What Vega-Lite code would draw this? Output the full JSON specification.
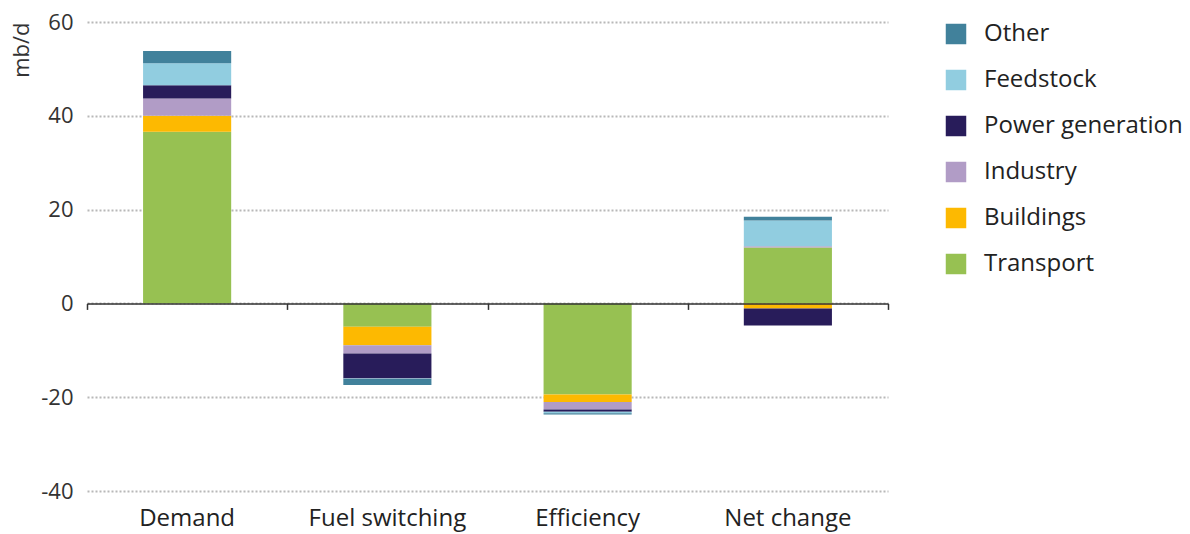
{
  "$schema": "https://vega.github.io/schema/vega-lite/v6.json",
  "autosize": {"type": "none"},
  "padding": {"left": 87, "top": 22, "right": 302, "bottom": 43},
  "width": 801,
  "height": 469,
  "background": "white",
  "config": {
    "font": "Open Sans",
    "view": {"stroke": null},
    "axis": {"labelColor": "#333333", "titleColor": "#333333", "labelFontSize": 22, "titleFontSize": 22, "titleFontWeight": "normal"}
  },
  "data": {
    "values": [
      {"cat": "Demand", "sector": "Transport", "value": 36.6, "rank": 1},
      {"cat": "Demand", "sector": "Buildings", "value": 3.4, "rank": 2},
      {"cat": "Demand", "sector": "Industry", "value": 3.7, "rank": 3},
      {"cat": "Demand", "sector": "Power generation", "value": 2.8, "rank": 4},
      {"cat": "Demand", "sector": "Feedstock", "value": 4.7, "rank": 5},
      {"cat": "Demand", "sector": "Other", "value": 2.6, "rank": 6},
      {"cat": "Fuel switching", "sector": "Transport", "value": -5.0, "rank": 1},
      {"cat": "Fuel switching", "sector": "Buildings", "value": -3.9, "rank": 2},
      {"cat": "Fuel switching", "sector": "Industry", "value": -1.8, "rank": 3},
      {"cat": "Fuel switching", "sector": "Power generation", "value": -5.3, "rank": 4},
      {"cat": "Fuel switching", "sector": "Feedstock", "value": -0.1, "rank": 5},
      {"cat": "Fuel switching", "sector": "Other", "value": -1.3, "rank": 6},
      {"cat": "Efficiency", "sector": "Transport", "value": -19.4, "rank": 1},
      {"cat": "Efficiency", "sector": "Buildings", "value": -1.6, "rank": 2},
      {"cat": "Efficiency", "sector": "Industry", "value": -1.6, "rank": 3},
      {"cat": "Efficiency", "sector": "Power generation", "value": -0.5, "rank": 4},
      {"cat": "Efficiency", "sector": "Feedstock", "value": -0.3, "rank": 5},
      {"cat": "Efficiency", "sector": "Other", "value": -0.3, "rank": 6},
      {"cat": "Net change", "sector": "Transport", "value": 11.9, "rank": 1},
      {"cat": "Net change", "sector": "Buildings", "value": -1.1, "rank": 2},
      {"cat": "Net change", "sector": "Industry", "value": 0.3, "rank": 3},
      {"cat": "Net change", "sector": "Power generation", "value": -3.6, "rank": 4},
      {"cat": "Net change", "sector": "Feedstock", "value": 5.5, "rank": 5},
      {"cat": "Net change", "sector": "Other", "value": 0.8, "rank": 6}
    ]
  },
  "layer": [
    {
      "mark": {"type": "bar", "width": {"band": 0.44}},
      "encoding": {
        "x": {
          "field": "cat", "type": "nominal", "sort": null,
          "scale": {"paddingInner": 0, "paddingOuter": 0},
          "axis": {"orient": "bottom", "title": null, "domain": false, "ticks": false, "labelAngle": 0, "labelPadding": 15, "grid": false, "labelColor": "#222222", "labelFontSize": 24}
        },
        "y": {
          "field": "value", "type": "quantitative", "stack": "zero",
          "scale": {"domain": [-40, 60], "nice": false},
          "axis": {
            "title": "mb/d", "titleAnchor": "end", "titlePadding": 10, "titleX": -54, "titleAlign": "right",
            "values": [-40, -20, 0, 20, 40, 60], "labelExpr": "datum.value + ''",
            "domain": false, "ticks": false, "labelPadding": 14,
            "grid": true, "gridColor": "#b8b8b8", "gridDash": [2, 2], "gridWidth": 2, "zindex": 0
          }
        },
        "color": {
          "field": "sector", "type": "nominal",
          "scale": {
            "domain": ["Other", "Feedstock", "Power generation", "Industry", "Buildings", "Transport"],
            "range": ["#41819b", "#91cde0", "#281c5a", "#b19cc6", "#fdb901", "#97c152"]
          },
          "legend": {
            "title": null, "orient": "none", "legendX": 857, "legendY": 0,
            "symbolType": "square", "symbolSize": 420, "symbolStrokeWidth": 0,
            "labelFontSize": 24, "labelColor": "#222222", "labelOffset": 16, "labelLimit": 0,
            "rowPadding": 22, "padding": 0
          }
        },
        "order": {"field": "rank", "type": "quantitative"}
      }
    },
    {
      "mark": {"type": "rule", "opacity": 0},
      "encoding": {
        "x": {
          "field": "cat", "type": "nominal", "sort": null,
          "axis": {"orient": "bottom", "offset": -187.6, "title": null, "labels": false, "grid": false,
                   "domain": true, "domainColor": "#333333", "domainWidth": 1.5,
                   "ticks": true, "tickBand": "extent", "tickColor": "#333333", "tickWidth": 1.5, "tickSize": 6, "zindex": 1}
        },
        "y": {"datum": 0}
      }
    }
  ],
  "resolve": {"axis": {"x": "independent"}}
}
